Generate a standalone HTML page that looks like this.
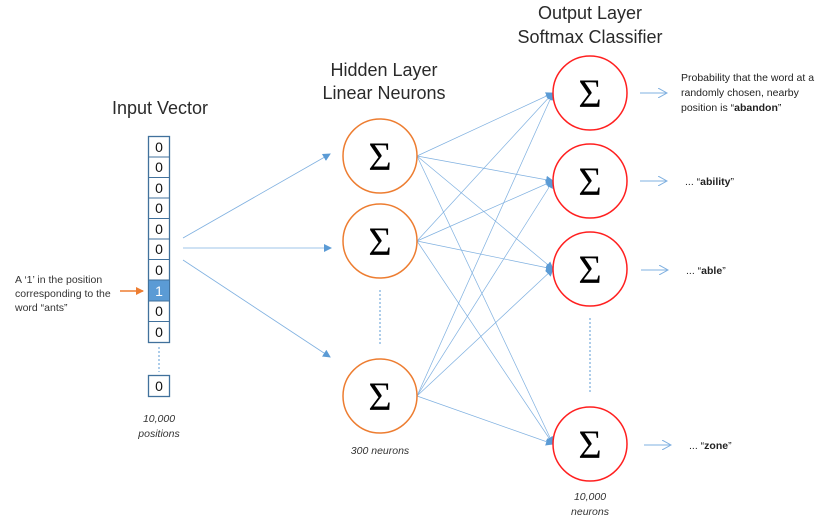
<!DOCTYPE html>
<html><head><style>
body{margin:0;background:#fff;}
svg{display:block;font-family:"Liberation Sans",sans-serif;}
</style></head><body>
<svg width="837" height="527" viewBox="0 0 837 527">
<defs>
<marker id="a" markerWidth="8" markerHeight="8" refX="7" refY="4" orient="auto" markerUnits="userSpaceOnUse"><path d="M0,0 L8,4 L0,8 Z" fill="#5b9bd5"/></marker>
<marker id="o" markerWidth="8" markerHeight="8" refX="7" refY="4" orient="auto" markerUnits="userSpaceOnUse"><path d="M0,0 L8,4 L0,8 Z" fill="#ed7d31"/></marker>
<marker id="op" markerWidth="10" markerHeight="10" refX="9" refY="5" orient="auto" markerUnits="userSpaceOnUse"><path d="M0,0 L9,5 L0,10" fill="none" stroke="#7fb0e0" stroke-width="1"/></marker>
</defs>
<g font-size="18" fill="#2a2a2a" text-anchor="middle">
<text x="160" y="114">Input Vector</text>
<text x="384" y="76">Hidden Layer</text>
<text x="384" y="99">Linear Neurons</text>
<text x="590" y="19">Output Layer</text>
<text x="590" y="43">Softmax Classifier</text>
</g>
<g stroke="#41719c" stroke-width="1.3" fill="#fff">
<rect x="148.5" y="136.5" width="21" height="206"/>
<rect x="148.5" y="375.5" width="21" height="21"/>
</g>
<rect x="149" y="280" width="20" height="21" fill="#5b9bd5"/>
<g stroke="#41719c" stroke-width="1">
<line x1="148" x2="170" y1="157" y2="157"/><line x1="148" x2="170" y1="177.5" y2="177.5"/><line x1="148" x2="170" y1="198" y2="198"/><line x1="148" x2="170" y1="218.5" y2="218.5"/><line x1="148" x2="170" y1="239" y2="239"/><line x1="148" x2="170" y1="259.5" y2="259.5"/><line x1="148" x2="170" y1="280" y2="280"/><line x1="148" x2="170" y1="301" y2="301"/><line x1="148" x2="170" y1="321.5" y2="321.5"/>
</g>
<g font-size="14" text-anchor="middle" fill="#111">
<text x="159" y="152">0</text><text x="159" y="172">0</text><text x="159" y="193">0</text><text x="159" y="213">0</text><text x="159" y="234">0</text><text x="159" y="254">0</text><text x="159" y="275">0</text><text x="159" y="296" fill="#fff">1</text><text x="159" y="316">0</text><text x="159" y="337">0</text><text x="159" y="391">0</text>
</g>
<line x1="159" y1="347" x2="159" y2="372" stroke="#5b9bd5" stroke-dasharray="2,2"/>
<g font-size="10.5" font-style="italic" fill="#333" text-anchor="middle">
<text x="159" y="422">10,000</text><text x="159" y="437">positions</text>
<text x="380" y="454">300 neurons</text>
<text x="590" y="500">10,000</text><text x="590" y="515">neurons</text>
</g>
<g font-size="10.5" fill="#333">
<text x="15" y="283">A ‘1’ in the position</text>
<text x="15" y="297">corresponding to the</text>
<text x="15" y="311">word “ants”</text>
</g>
<line x1="120" y1="291" x2="143" y2="291" stroke="#ed7d31" stroke-width="1.5" marker-end="url(#o)"/>
<g stroke="#7fb0e0" stroke-width="0.8" marker-end="url(#a)">
<line x1="183" y1="238" x2="330" y2="154"/>
<line x1="183" y1="248" x2="331" y2="248"/>
<line x1="183" y1="260" x2="330" y2="357"/>
</g>
<g stroke="#7fb0e0" stroke-width="0.7" marker-end="url(#a)">
<line x1="417" y1="156" x2="553" y2="93"/><line x1="417" y1="156" x2="553" y2="181"/><line x1="417" y1="156" x2="553" y2="269"/><line x1="417" y1="156" x2="553" y2="444"/>
<line x1="417" y1="241" x2="553" y2="93"/><line x1="417" y1="241" x2="553" y2="181"/><line x1="417" y1="241" x2="553" y2="269"/><line x1="417" y1="241" x2="553" y2="444"/>
<line x1="417" y1="396" x2="553" y2="93"/><line x1="417" y1="396" x2="553" y2="181"/><line x1="417" y1="396" x2="553" y2="269"/><line x1="417" y1="396" x2="553" y2="444"/>
</g>
<line x1="380" y1="290" x2="380" y2="345" stroke="#5b9bd5" stroke-dasharray="2,2"/>
<line x1="590" y1="318" x2="590" y2="393" stroke="#5b9bd5" stroke-dasharray="2,2"/>
<g fill="#fff" stroke="#ed7d31" stroke-width="1.5">
<circle cx="380" cy="156" r="37"/><circle cx="380" cy="241" r="37"/><circle cx="380" cy="396" r="37"/>
</g>
<g fill="#fff" stroke="#ff2020" stroke-width="1.5">
<circle cx="590" cy="93" r="37"/><circle cx="590" cy="181" r="37"/><circle cx="590" cy="269" r="37"/><circle cx="590" cy="444" r="37"/>
</g>
<g font-family="'Liberation Serif',serif" font-size="40" text-anchor="middle" fill="#000">
<text x="380" y="170">Σ</text><text x="380" y="255">Σ</text><text x="380" y="410">Σ</text>
<text x="590" y="107">Σ</text><text x="590" y="195">Σ</text><text x="590" y="283">Σ</text><text x="590" y="458">Σ</text>
</g>
<g stroke="#7fb0e0" stroke-width="0.9" marker-end="url(#op)">
<line x1="640" y1="93" x2="667" y2="93"/><line x1="640" y1="181" x2="667" y2="181"/><line x1="641" y1="270" x2="668" y2="270"/><line x1="644" y1="445" x2="671" y2="445"/>
</g>
<g font-size="10.5" fill="#222">
<text x="681" y="81">Probability that the word at a</text>
<text x="681" y="96">randomly chosen, nearby</text>
<text x="681" y="111">position is “<tspan font-weight="bold">abandon</tspan>”</text>
<text x="685" y="185">... “<tspan font-weight="bold">ability</tspan>”</text>
<text x="686" y="274">... “<tspan font-weight="bold">able</tspan>”</text>
<text x="689" y="449">... “<tspan font-weight="bold">zone</tspan>”</text>
</g>
</svg>
</body></html>
